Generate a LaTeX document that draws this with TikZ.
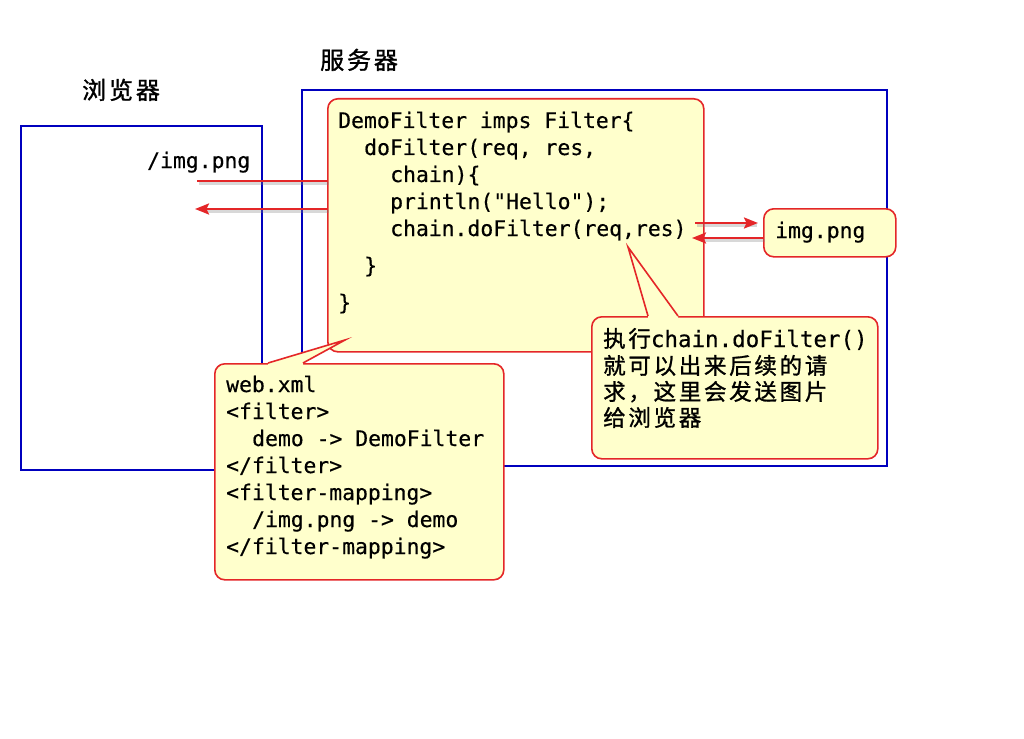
\documentclass[tikz,border=0pt]{standalone}
\usepackage{fontspec}
\newfontfamily\monofont{DejaVu Sans Mono}[FakeBold=0.4]
\newfontfamily\cjk{Noto Sans CJK SC}[LetterSpace=12,FakeBold=1.2]
\usetikzlibrary{arrows.meta}
\definecolor{boxblue}{RGB}{0,0,190}
\definecolor{callred}{RGB}{228,38,40}
\definecolor{callfill}{RGB}{255,255,204}
\begin{document}
\begin{tikzpicture}[x=1pt,y=-1pt,
  bluebox/.style={draw=boxblue, line width=1.8pt, anchor=north west, inner sep=0pt},
  callbox/.style={draw=callred, fill=callfill, line width=1.6pt, rounded corners=10pt, anchor=north west, inner sep=0pt},
  codeline/.style={font=\monofont\fontsize{21.4}{27}\selectfont, inner sep=0pt, anchor=base west},
  noteline/.style={font=\monofont\fontsize{22.5}{27}\selectfont, inner sep=0pt, anchor=base west},
  title/.style={font=\cjk\fontsize{24}{26}\selectfont, inner sep=0pt, anchor=base west},
  redline/.style={draw=callred, line width=2.3pt},
  redarrow/.style={redline, -{Stealth[length=14pt,width=11pt,inset=2.5pt]}},
  shadowline/.style={draw=gray, opacity=0.3, line width=3pt}
]
\useasboundingbox (0,0) rectangle (1024,738);
\fill[white] (0,0) rectangle (1024,738);

% titles
\node[title] (tbrowser) at (82,99) {浏览器};
\node[title] (tserver) at (320,69) {服务器};

% blue boxes
\node[bluebox, minimum width=241pt, minimum height=344pt] (browser) at (20,125) {};
\node[bluebox, minimum width=585pt, minimum height=376pt] (server) at (301,89) {};

% code box
\node[callbox, minimum width=376pt, minimum height=253pt] (codebox) at (327,98) {};
\node[codeline] (c1) at (338,128) {DemoFilter imps Filter\{};
\node[codeline] (c2) at (364,155) {doFilter(req, res,};
\node[codeline] (c3) at (390,182) {chain)\{};
\node[codeline] (c4) at (390,209) {println("Hello");};
\node[codeline] (c5) at (390,236) {chain.doFilter(req,res)};
\node[codeline] (c6) at (364,273) {\}};
\node[codeline] (c7) at (338,310) {\}};

% img.png box
\node[callbox, minimum width=132pt, minimum height=48pt] (imgbox) at (763,208) {};
\node[codeline] (imgtext) at (775,238) {img.png};

% request label
\node[codeline] (req) at (147,168) {/img.png};

% connectors
\coordinate (bin) at (197,181);
\coordinate (bout) at (195,209);
\coordinate (cout) at (695,223);
\coordinate (cin) at (692,238);
\draw[shadowline] ([shift={(1.5,2.5)}]codebox.west |- bin) -- ([shift={(1.5,2.5)}]bin);
\draw[shadowline] ([shift={(1.5,2.5)}]codebox.west |- bout) -- ([shift={(10,2.5)}]bout);
\draw[shadowline] ([shift={(1.5,2.5)}]cout) -- ([shift={(-6,2.5)}]imgbox.west |- cout);
\draw[shadowline] ([shift={(1.5,2.5)}]imgbox.west |- cin) -- ([shift={(10,2.5)}]cin);
\draw[redline] (codebox.west |- bin) -- (bin);
\draw[redarrow] (codebox.west |- bout) -- (bout);
\draw[redarrow, shorten >=5pt] (cout) -- (imgbox.west |- cout);
\draw[redarrow] (imgbox.west |- cin) -- (cin);

% comment callout
\node[callbox, minimum width=286pt, minimum height=142pt] (notebox) at (591,316) {};
\fill[callfill] (648,316) -- (628,247) -- (678,316) -- (678,318) -- (648,318) -- cycle;
\draw[callred, line width=1.6pt, line join=miter] (648,316) -- (628,247) -- (678,316);
\node[noteline] (n1) at (603,347) {{\cjk 执行}chain.doFilter()};
\node[noteline] (n2) at (603,374) {\cjk 就可以出来后续的请};
\node[noteline] (n3) at (603,400) {\cjk 求，这里会发送图片};
\node[noteline] (n4) at (603,426) {\cjk 给浏览器};

% web.xml callout
\node[callbox, minimum width=289pt, minimum height=216pt] (xmlbox) at (214,363) {};
\fill[callfill] (268,363) -- (345,340) -- (303,363) -- (303,365) -- (268,365) -- cycle;
\draw[callred, line width=1.6pt, line join=miter] (268,363) -- (345,340) -- (303,363);
\node[codeline] (x1) at (226,392) {web.xml};
\node[codeline] (x2) at (226,419) {<filter>};
\node[codeline] (x3) at (252,446) {demo -> DemoFilter};
\node[codeline] (x4) at (226,473) {</filter>};
\node[codeline] (x5) at (226,500) {<filter-mapping>};
\node[codeline] (x6) at (252,527) {/img.png -> demo};
\node[codeline] (x7) at (226,554) {</filter-mapping>};
\end{tikzpicture}
\end{document}
